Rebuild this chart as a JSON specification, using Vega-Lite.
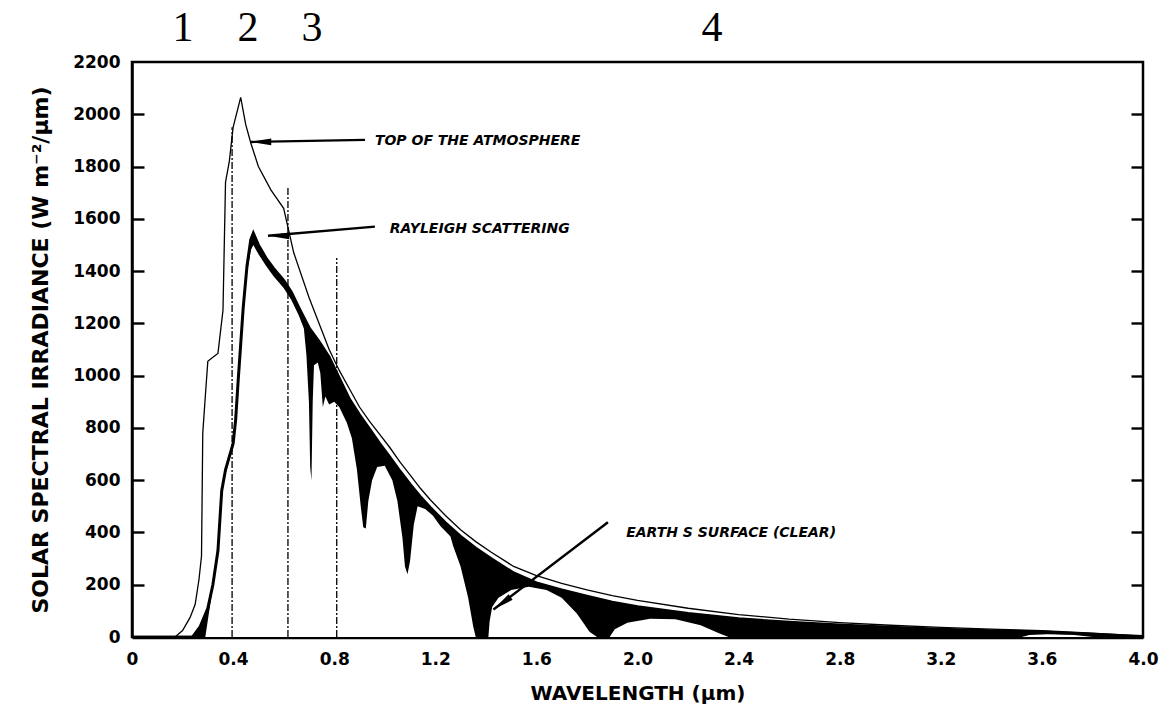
{
  "$schema": "https://vega.github.io/schema/vega-lite/v6.json",
  "width": 1011,
  "height": 575,
  "autosize": {"type": "none"},
  "padding": {"left": 132, "top": 62, "right": 33, "bottom": 84},
  "background": "white",
  "config": {
    "view": {"stroke": "black", "strokeWidth": 2.5},
    "axis": {"grid": false, "domainColor": "black", "domainWidth": 2.5, "tickColor": "black", "tickWidth": 2.4,
      "labelFont": "DejaVu Sans", "labelFontWeight": "bold", "labelFontSize": 16, "labelColor": "black",
      "titleFont": "DejaVu Sans", "titleFontWeight": "bold", "titleFontSize": 20, "titleColor": "black"}
  },
  "datasets": {
    "toa": [
      {"x":0.17,"y":0},{"x":0.20,"y":25},{"x":0.23,"y":75},{"x":0.25,"y":125},{"x":0.265,"y":220},{"x":0.275,"y":310},{"x":0.28,"y":780},{"x":0.29,"y":920},{"x":0.30,"y":1055},{"x":0.32,"y":1070},{"x":0.34,"y":1085},{"x":0.36,"y":1250},{"x":0.37,"y":1740},{"x":0.385,"y":1820},{"x":0.40,"y":1950},{"x":0.43,"y":2065},{"x":0.45,"y":1960},{"x":0.47,"y":1890},{"x":0.50,"y":1800},{"x":0.55,"y":1710},{"x":0.60,"y":1640},{"x":0.64,"y":1470},{"x":0.70,"y":1300},{"x":0.78,"y":1100},{"x":0.82,"y":1020},{"x":0.86,"y":950},{"x":0.90,"y":880},{"x":0.94,"y":825},{"x":0.98,"y":775},{"x":1.02,"y":725},{"x":1.06,"y":670},{"x":1.10,"y":620},{"x":1.14,"y":570},{"x":1.18,"y":525},{"x":1.24,"y":465},{"x":1.30,"y":410},{"x":1.36,"y":365},{"x":1.42,"y":325},{"x":1.51,"y":270},{"x":1.60,"y":235},{"x":1.70,"y":205},{"x":1.80,"y":180},{"x":1.90,"y":158},{"x":2.00,"y":140},{"x":2.20,"y":110},{"x":2.40,"y":86},{"x":2.60,"y":68},{"x":2.80,"y":55},{"x":3.00,"y":45},{"x":3.20,"y":37},{"x":3.40,"y":30},{"x":3.60,"y":24},{"x":3.80,"y":15},{"x":3.95,"y":6},{"x":4.00,"y":3}
    ],
    "rayleigh": [
      {"x":0.24,"y":0},{"x":0.27,"y":40},{"x":0.30,"y":110},{"x":0.32,"y":200},{"x":0.34,"y":330},{"x":0.355,"y":560},{"x":0.37,"y":640},{"x":0.385,"y":690},{"x":0.40,"y":740},{"x":0.41,"y":830},{"x":0.42,"y":980},{"x":0.43,"y":1120},{"x":0.44,"y":1260},{"x":0.455,"y":1420},{"x":0.47,"y":1520},{"x":0.48,"y":1545},{"x":0.50,"y":1500},{"x":0.53,"y":1450},{"x":0.56,"y":1410},{"x":0.60,"y":1364},{"x":0.63,"y":1320},{"x":0.66,"y":1260},{"x":0.70,"y":1184},{"x":0.74,"y":1130},{"x":0.78,"y":1070},{"x":0.82,"y":990},{"x":0.86,"y":910},{"x":0.90,"y":850},{"x":0.94,"y":795},{"x":0.98,"y":740},{"x":1.02,"y":688},{"x":1.06,"y":635},{"x":1.10,"y":585},{"x":1.14,"y":538},{"x":1.18,"y":495},{"x":1.24,"y":437},{"x":1.30,"y":385},{"x":1.36,"y":340},{"x":1.42,"y":300},{"x":1.51,"y":245},{"x":1.60,"y":207},{"x":1.70,"y":180},{"x":1.80,"y":156},{"x":1.90,"y":133},{"x":2.00,"y":116},{"x":2.20,"y":90},{"x":2.40,"y":70},{"x":2.60,"y":56},{"x":2.80,"y":46},{"x":3.00,"y":37},{"x":3.20,"y":30},{"x":3.40,"y":24},{"x":3.60,"y":19},{"x":3.80,"y":11},{"x":3.95,"y":4},{"x":4.00,"y":2}
    ],
    "surface": [
      {"x":0.29,"y":0},{"x":0.34,"y":320},{"x":0.355,"y":545},{"x":0.37,"y":625},{"x":0.385,"y":675},{"x":0.40,"y":725},{"x":0.41,"y":815},{"x":0.42,"y":960},{"x":0.43,"y":1100},{"x":0.44,"y":1235},{"x":0.455,"y":1390},{"x":0.47,"y":1480},{"x":0.48,"y":1500},{"x":0.50,"y":1465},{"x":0.53,"y":1420},{"x":0.56,"y":1380},{"x":0.60,"y":1335},{"x":0.63,"y":1290},{"x":0.66,"y":1230},{"x":0.68,"y":1180},{"x":0.69,"y":1080},{"x":0.70,"y":900},{"x":0.705,"y":650},{"x":0.71,"y":600},{"x":0.715,"y":900},{"x":0.72,"y":1040},{"x":0.735,"y":1050},{"x":0.745,"y":1010},{"x":0.755,"y":880},{"x":0.765,"y":920},{"x":0.78,"y":890},{"x":0.80,"y":900},{"x":0.82,"y":880},{"x":0.85,"y":820},{"x":0.87,"y":760},{"x":0.89,"y":640},{"x":0.905,"y":500},{"x":0.915,"y":420},{"x":0.925,"y":415},{"x":0.935,"y":520},{"x":0.95,"y":600},{"x":0.97,"y":650},{"x":1.0,"y":655},{"x":1.03,"y":600},{"x":1.05,"y":520},{"x":1.07,"y":380},{"x":1.08,"y":270},{"x":1.09,"y":240},{"x":1.10,"y":290},{"x":1.115,"y":430},{"x":1.13,"y":500},{"x":1.16,"y":490},{"x":1.19,"y":465},{"x":1.22,"y":425},{"x":1.26,"y":385},{"x":1.27,"y":350},{"x":1.30,"y":270},{"x":1.33,"y":150},{"x":1.35,"y":40},{"x":1.36,"y":0},{"x":1.41,"y":0},{"x":1.415,"y":60},{"x":1.425,"y":115},{"x":1.45,"y":150},{"x":1.50,"y":180},{"x":1.57,"y":192},{"x":1.64,"y":180},{"x":1.70,"y":150},{"x":1.76,"y":90},{"x":1.81,"y":20},{"x":1.84,"y":0},{"x":1.89,"y":0},{"x":1.91,"y":30},{"x":1.96,"y":55},{"x":2.05,"y":70},{"x":2.15,"y":68},{"x":2.25,"y":45},{"x":2.32,"y":15},{"x":2.36,"y":0},{"x":3.52,"y":0},{"x":3.55,"y":8},{"x":3.62,"y":11},{"x":3.72,"y":9},{"x":3.80,"y":0},{"x":4.0,"y":0}
    ],
    "bounds": [
      {"x":0.396,"y":0,"y2":1950},{"x":0.617,"y":0,"y2":1720},{"x":0.81,"y":0,"y2":1450}
    ],
    "arrows": [
      {"x":0.467,"y":1894,"x2":0.922,"y2":1902,"id":1},
      {"x":0.538,"y":1535,"x2":0.961,"y2":1570,"id":2},
      {"x":1.43,"y":105,"x2":1.883,"y2":439,"id":3}
    ],
    "notes": [
      {"x":0.961,"y":1898,"label":"TOP OF THE ATMOSPHERE"},
      {"x":1.02,"y":1562,"label":"RAYLEIGH SCATTERING"},
      {"x":1.955,"y":397,"label":"EARTH S SURFACE (CLEAR)"}
    ],
    "bands": [
      {"x":0.202,"y":2330,"label":"1"},{"x":0.459,"y":2330,"label":"2"},{"x":0.712,"y":2330,"label":"3"},{"x":2.295,"y":2330,"label":"4"}
    ]
  },
  "encoding": {
    "x": {"field": "x", "type": "quantitative", "scale": {"domain": [0, 4], "nice": false, "zero": false},
      "axis": {"values": [0,0.4,0.8,1.2,1.6,2.0,2.4,2.8,3.2,3.6,4.0], "labelExpr": "datum.value == 0 ? '0' : format(datum.value, '.1f')", "ticks": false, "labelPadding": 14, "labelFontSize": 17, "domainWidth": 3.5, "title": "WAVELENGTH (µm)", "titlePadding": 16, "labelFlush": false}},
    "y": {"field": "y", "type": "quantitative", "scale": {"domain": [0, 2200], "nice": false}, "axis": null}
  },
  "resolve": {"axis": {"y": "independent"}},
  "layer": [
    {"data": {"name": "rayleigh"}, "mark": {"type": "area", "color": "black", "clip": true},
      "encoding": {"y": {"field": "y", "type": "quantitative", "scale": {"domain": [0, 2200], "nice": false},
        "axis": {"orient": "left", "values": [0,200,400,600,800,1000,1200,1400,1600,1800,2000,2200], "format": "d", "ticks": false, "labelPadding": 12, "labelFontSize": 17, "title": "SOLAR SPECTRAL IRRADIANCE (W m⁻²/µm)", "titleFontSize": 22, "titlePadding": 20}}}},
    {"data": {"name": "surface"}, "mark": {"type": "area", "color": "white", "clip": true},
      "encoding": {"y": {"field": "y", "type": "quantitative", "scale": {"domain": [0, 2200], "nice": false},
        "axis": {"orient": "right", "offset": -1011, "values": [200,400,600,800,1000,1200,1400,1600,1800,2000], "tickSize": 12, "labels": false, "domain": false, "title": null}}}},
    {"data": {"name": "bounds"}, "mark": {"type": "rule", "color": "black", "strokeWidth": 1.3, "strokeDash": [7, 2, 2, 2]},
      "encoding": {"y2": {"field": "y2"}}},
    {"data": {"name": "rayleigh"}, "mark": {"type": "line", "color": "black", "strokeWidth": 3, "clip": true}},
    {"data": {"name": "toa"}, "mark": {"type": "line", "color": "black", "strokeWidth": 1.3, "clip": true}},
    {"data": {"name": "arrows"}, "mark": {"type": "rule", "color": "black", "strokeWidth": 2.4},
      "encoding": {"x2": {"field": "x2"}, "y2": {"field": "y2"}}},
    {"data": {"name": "arrows"}, "transform": [{"filter": "datum.id < 3"}],
      "mark": {"type": "point", "shape": "M 0 0 L 2 -0.32 L 2 0.32 Z", "filled": true, "color": "black", "size": 450, "opacity": 1}},
    {"data": {"name": "arrows"}, "transform": [{"filter": "datum.id == 3"}],
      "mark": {"type": "point", "shape": "M 0 0 L 2 -0.32 L 2 0.32 Z", "filled": true, "color": "black", "size": 450, "angle": -36, "opacity": 1}},
    {"data": {"name": "notes"}, "mark": {"type": "text", "align": "left", "baseline": "middle", "font": "DejaVu Sans", "fontStyle": "italic", "fontWeight": "bold", "fontSize": 14, "color": "black"},
      "encoding": {"text": {"field": "label"}}},
    {"data": {"name": "bands"}, "mark": {"type": "text", "align": "center", "baseline": "middle", "font": "Liberation Serif", "fontSize": 42, "color": "black"},
      "encoding": {"text": {"field": "label"},
        "y": {"field": "y", "type": "quantitative", "scale": {"domain": [0, 2200], "nice": false},
          "axis": {"orient": "left", "offset": -1011, "values": [200,400,600,800,1000,1200,1400,1600,1800,2000], "tickSize": 12, "labels": false, "domain": false, "title": null}}}}
  ]
}
